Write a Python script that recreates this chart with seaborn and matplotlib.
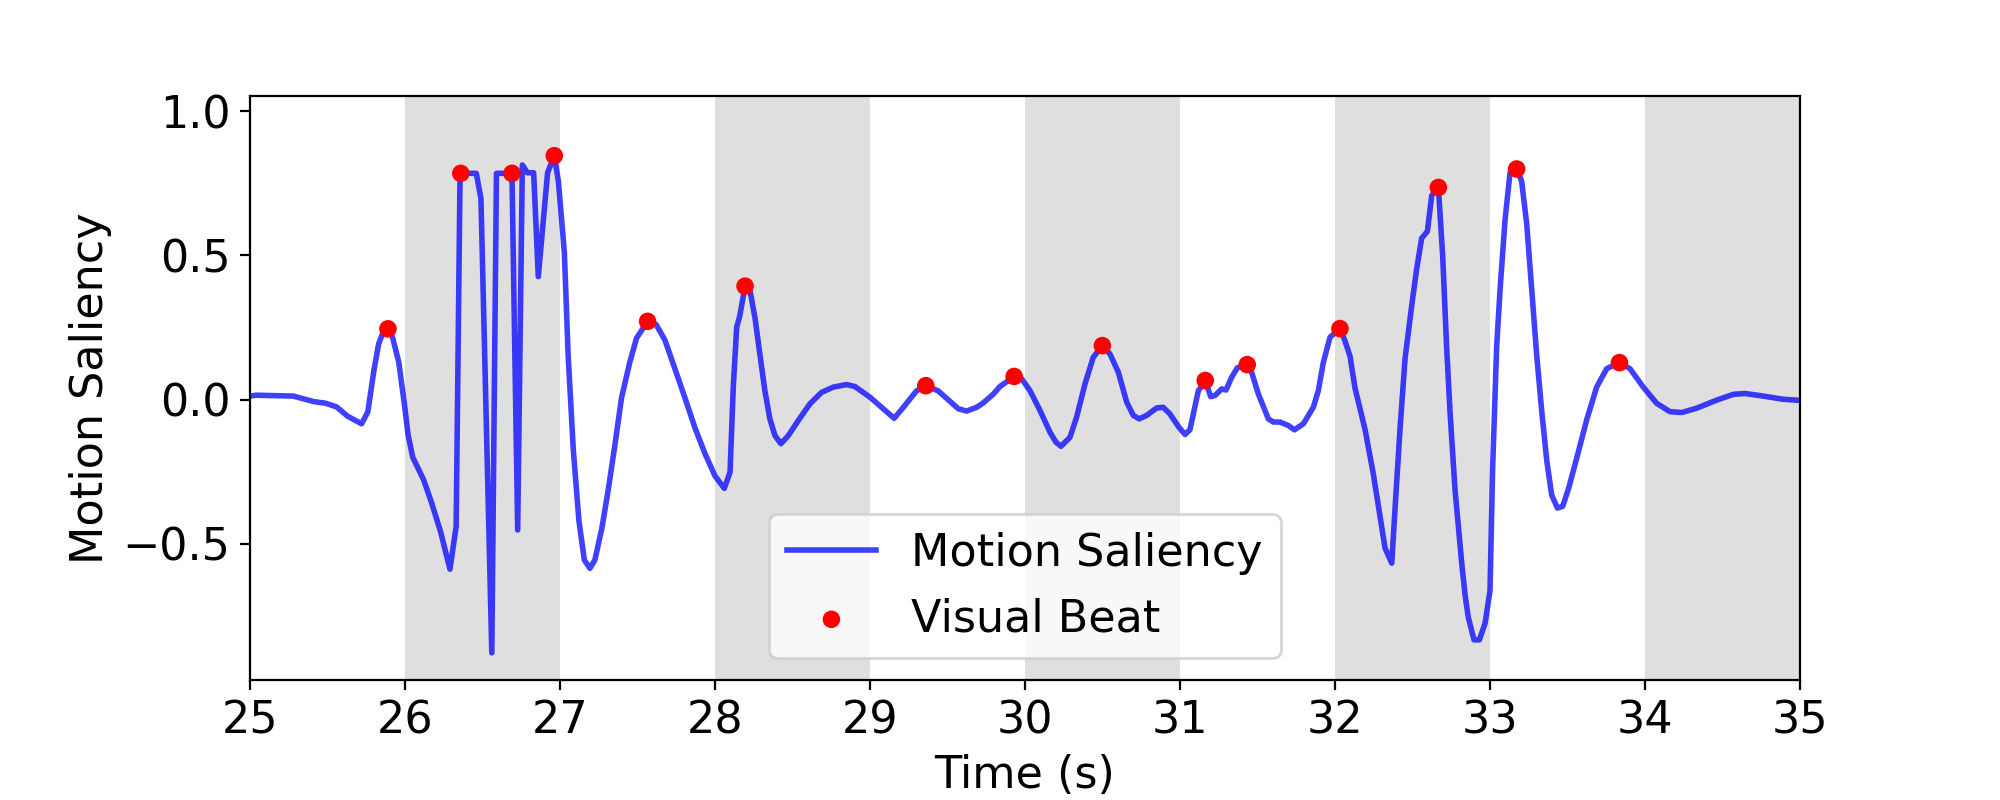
import numpy as np
import matplotlib
matplotlib.use("Agg")
import matplotlib.pyplot as plt
import seaborn as sns

# motion saliency curve
time_s = [
    25.00, 25.04, 25.28, 25.41, 25.49, 25.56, 25.63, 25.72, 25.76, 25.80,
    25.83, 25.86, 25.89, 25.92, 25.96, 26.00, 26.02, 26.05, 26.12, 26.17,
    26.23, 26.29, 26.33, 26.355, 26.36, 26.46, 26.49, 26.56, 26.59, 26.69,
    26.727, 26.757, 26.79, 26.83, 26.86, 26.92, 26.963, 26.99, 27.028, 27.053,
    27.086, 27.122, 27.157, 27.193, 27.225, 27.27, 27.31, 27.355, 27.397, 27.45,
    27.494, 27.565, 27.62, 27.677, 27.74, 27.806, 27.87, 27.935, 28.0, 28.06,
    28.097, 28.118, 28.14, 28.16, 28.194, 28.225, 28.258, 28.29, 28.322, 28.354,
    28.387, 28.425, 28.473, 28.537, 28.612, 28.688, 28.763, 28.849, 28.903, 29.0,
    29.085, 29.156, 29.215, 29.3, 29.36, 29.44, 29.516, 29.57, 29.623, 29.688,
    29.73, 29.796, 29.838, 29.93, 29.978, 30.032, 30.097, 30.161, 30.2, 30.232,
    30.29, 30.333, 30.387, 30.44, 30.499, 30.548, 30.602, 30.656, 30.699, 30.737,
    30.785, 30.85, 30.892, 30.935, 30.989, 31.032, 31.064, 31.118, 31.163, 31.198,
    31.226, 31.269, 31.297, 31.333, 31.37, 31.434, 31.462, 31.505, 31.57, 31.602,
    31.645, 31.699, 31.738, 31.796, 31.86, 31.892, 31.925, 31.968, 32.032, 32.064,
    32.097, 32.129, 32.194, 32.247, 32.323, 32.366, 32.387, 32.42, 32.452, 32.495,
    32.527, 32.559, 32.596, 32.624, 32.667, 32.695, 32.72, 32.742, 32.774, 32.817,
    32.839, 32.86, 32.897, 32.931, 32.968, 33.0, 33.017, 33.043, 33.065, 33.097,
    33.129, 33.172, 33.204, 33.237, 33.269, 33.301, 33.334, 33.366, 33.398, 33.435,
    33.469, 33.506, 33.559, 33.624, 33.688, 33.753, 33.835, 33.903, 33.989, 34.075,
    34.161, 34.237, 34.333, 34.463, 34.57, 34.645, 34.763, 34.892, 35.0,
]
saliency = [
    0.012, 0.015, 0.012, -0.007, -0.013, -0.026, -0.058, -0.084, -0.043, 0.103,
    0.193, 0.235, 0.245, 0.215, 0.129, -0.033, -0.123, -0.200, -0.278, -0.355,
    -0.459, -0.588, -0.440, 0.774, 0.784, 0.784, 0.697, -0.878, 0.784, 0.784,
    -0.452, 0.813, 0.786, 0.786, 0.426, 0.786, 0.845, 0.755, 0.51, 0.148,
    -0.175, -0.42, -0.556, -0.585, -0.556, -0.446, -0.317, -0.155, 0.006, 0.129,
    0.213, 0.271, 0.26, 0.206, 0.109, 0.006, -0.097, -0.187, -0.265, -0.308,
    -0.252, 0.045, 0.251, 0.29, 0.393, 0.38, 0.283, 0.155, 0.03, -0.067,
    -0.125, -0.153, -0.125, -0.073, -0.015, 0.025, 0.043, 0.052, 0.045, 0.008,
    -0.032, -0.065, -0.027, 0.03, 0.048, 0.03, -0.006, -0.032, -0.04, -0.027,
    -0.012, 0.019, 0.045, 0.08, 0.072, 0.031, -0.038, -0.113, -0.148, -0.162,
    -0.131, -0.061, 0.054, 0.146, 0.187, 0.158, 0.095, -0.009, -0.055, -0.067,
    -0.055, -0.029, -0.027, -0.05, -0.093, -0.121, -0.105, 0.03, 0.066, 0.01,
    0.014, 0.037, 0.033, 0.077, 0.11, 0.121, 0.095, 0.02, -0.067, -0.078,
    -0.078, -0.09, -0.105, -0.084, -0.027, 0.03, 0.129, 0.216, 0.246, 0.204,
    0.15, 0.04, -0.104, -0.257, -0.515, -0.567, -0.381, -0.098, 0.142, 0.326,
    0.453, 0.559, 0.583, 0.707, 0.735, 0.495, 0.184, -0.042, -0.31, -0.564,
    -0.677, -0.755, -0.833, -0.833, -0.776, -0.663, -0.239, 0.184, 0.382, 0.622,
    0.785, 0.799, 0.757, 0.608, 0.382, 0.156, -0.042, -0.211, -0.331, -0.376,
    -0.37, -0.31, -0.204, -0.07, 0.043, 0.107, 0.128, 0.107, 0.043, -0.013,
    -0.042, -0.045, -0.03, -0.002, 0.018, 0.021, 0.012, 0.001, -0.003,
]

# detected visual beats
beat_times = [25.89, 26.36, 26.69, 26.963, 27.565, 28.194, 29.36, 29.93,
              30.499, 31.163, 31.434, 32.032, 32.667, 33.172, 33.835]
beat_values = [0.245, 0.784, 0.784, 0.845, 0.271, 0.393, 0.048, 0.08,
               0.187, 0.066, 0.121, 0.246, 0.735, 0.799, 0.128]

# shaded seconds
shade_starts = [26, 28, 30, 32, 34]

fig, ax = plt.subplots(figsize=(10, 4), dpi=200)
fig.subplots_adjust(left=0.125, right=0.9, top=0.88, bottom=0.15)

for s in shade_starts:
    ax.axvspan(s, s + 1, color='gray', alpha=0.25, linewidth=0)

sns.lineplot(x=np.array(time_s), y=np.array(saliency), ax=ax, color='b',
             alpha=0.75, linewidth=2, estimator=None, sort=False,
             label='Motion Saliency')
sns.scatterplot(x=np.array(beat_times), y=np.array(beat_values), ax=ax,
                color='red', s=40, linewidth=0, edgecolor='none', zorder=3,
                label='Visual Beat')

ax.set_xlim(25, 35)
ax.set_ylim(-0.972, 1.052)
ax.set_xticks(range(25, 36))
ax.set_yticks([-0.5, 0.0, 0.5, 1.0])
ax.tick_params(labelsize=16)
ax.set_xlabel('Time (s)', fontsize=16)
ax.set_ylabel('Motion Saliency', fontsize=16)
ax.legend(loc='lower center', fontsize=16)

fig.savefig('out.png', dpi=200)
